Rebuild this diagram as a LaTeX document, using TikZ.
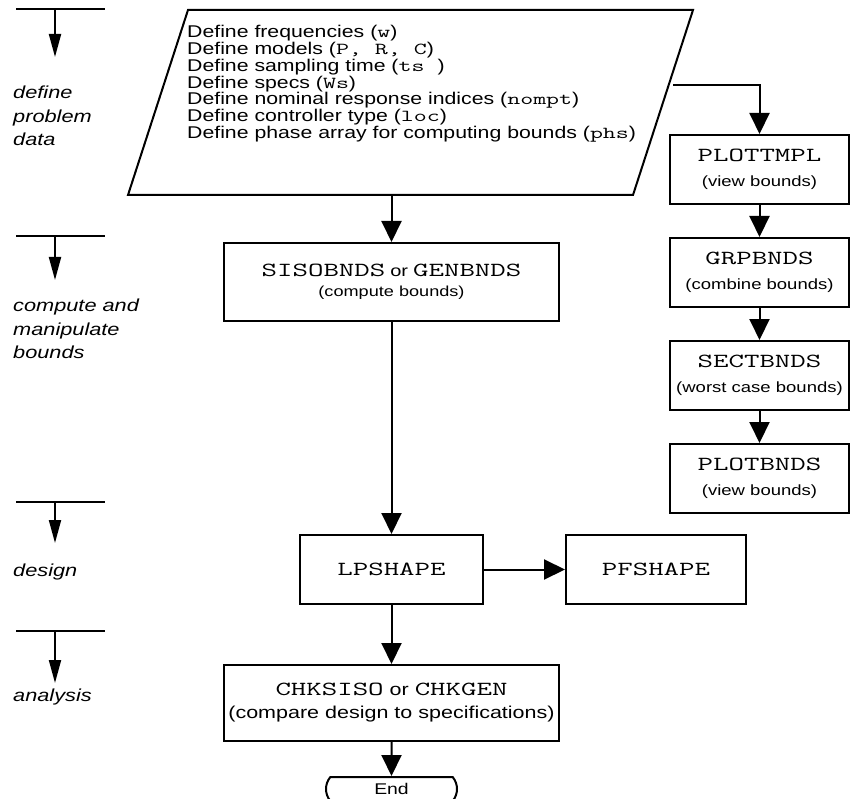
\documentclass[tikz,border=0pt]{standalone}
\usepackage{fontspec}
\setmainfont[FakeStretch=1.25]{Liberation Sans}
\setmonofont[FakeStretch=1.5]{Latin Modern Mono}
\usetikzlibrary{arrows.meta,positioning,shapes.misc}
\newcommand{\fnc}[1]{{\fontsize{20}{20}\selectfont\ttfamily #1}}
\newcommand{\cmdarg}[1]{{\fontsize{16.8}{15.8}\selectfont\ttfamily #1}}
\newcommand{\orword}{{\fontsize{16}{20}\selectfont or}}

\begin{document}
\begin{tikzpicture}[x=1pt, y=-1pt,
  box/.style={draw, line width=2pt, inner sep=0pt, align=center, font=\fontsize{14.8}{25}\selectfont},
  arrow/.style={-{Triangle[length=21pt,width=20pt]}, line width=2pt},
  phase/.style={anchor=north west, inner sep=0pt, align=left, font=\fontsize{17.4}{23.5}\selectfont\itshape},
  phasemark/.style={-{Triangle[length=23pt,width=12pt]}, line width=2pt}
]
\useasboundingbox (0,0) rectangle (850,799);

\foreach \top/\tip [count=\i] in {9/57, 236/280, 502/543, 631/683} {
  \coordinate (bar\i) at (55,\top);
  \coordinate (tip\i) at (55,\tip);
  \draw[line width=2pt] (16,\top) -- (105,\top);
  \draw[phasemark] (bar\i) -- (tip\i);
}
\node[phase] (lbldata) at (13,86) {define\\problem\\data};
\node[phase] (lblbnds) at (13,299) {compute and\\manipulate\\bounds};
\node[phase] (lbldesign) at (13,564) {design};
\node[phase] (lblanalysis) at (13,689) {analysis};

\draw[line width=2pt] (188,10) -- (693,10) -- (633,195) -- (128,195) -- cycle;
\node[anchor=north west, inner sep=0pt, align=left, font=\fontsize{17}{15.8}\selectfont] (probdata) at (187,25)
  {Define frequencies (\cmdarg{w})\\
   Define models (\cmdarg{P, R, C})\\
   Define sampling time (\cmdarg{ts~})\\
   Define specs (\cmdarg{Ws})\\
   Define nominal response indices (\cmdarg{nompt})\\
   Define controller type (\cmdarg{loc})\\
   Define phase array for computing bounds (\cmdarg{phs})};
\coordinate (pdbot) at (391.5,195);
\coordinate (pdright) at (673,85);

\node[box, minimum width=179pt, minimum height=69pt] (plottmpl) at (759.5,169.5) {\fnc{PLOTTMPL}\\(view bounds)};
\node[box, minimum width=179pt, minimum height=69pt, below=32pt of plottmpl] (grpbnds) {\fnc{GRPBNDS}\\(combine bounds)};
\node[box, minimum width=179pt, minimum height=69pt, below=32pt of grpbnds] (sectbnds) {\fnc{SECTBNDS}\\(worst case bounds)};
\node[box, minimum width=179pt, minimum height=69pt, below=32pt of sectbnds] (plotbnds) {\fnc{PLOTBNDS}\\(view bounds)};

\node[box, minimum width=335pt, minimum height=78pt, font=\fontsize{14.5}{20}\selectfont] (bnds) at (391.5,282) {\fnc{SISOBNDS} \orword{} \fnc{GENBNDS}\\(compute bounds)};
\node[box, minimum width=183pt, minimum height=69pt] (lpshape) at (391.5,569.5) {\fnc{LPSHAPE}};
\node[box, minimum width=180pt, minimum height=69pt, right=81pt of lpshape] (pfshape) {\fnc{PFSHAPE}};
\node[box, minimum width=335pt, minimum height=76pt, below=59pt of lpshape, font=\fontsize{17.2}{23}\selectfont] (chk) {\fnc{CHKSISO} or \fnc{CHKGEN}\\(compare design to specifications)};
\node[draw, line width=2pt, rounded rectangle, rounded rectangle arc length=80, inner sep=0pt, minimum width=131pt, minimum height=24pt, below=34pt of chk, font=\fontsize{15.5}{18}\selectfont] (end) {End};

\draw[arrow] (pdright) -| (plottmpl.north);
\draw[arrow] (plottmpl) -- (grpbnds);
\draw[arrow] (grpbnds) -- (sectbnds);
\draw[arrow] (sectbnds) -- (plotbnds);
\draw[arrow] (pdbot) -- (bnds.north);
\draw[arrow] (bnds) -- (lpshape);
\draw[arrow] (lpshape) -- (pfshape);
\draw[arrow] (lpshape) -- (chk);
\draw[arrow] (chk) -- (end);
\end{tikzpicture}
\end{document}
